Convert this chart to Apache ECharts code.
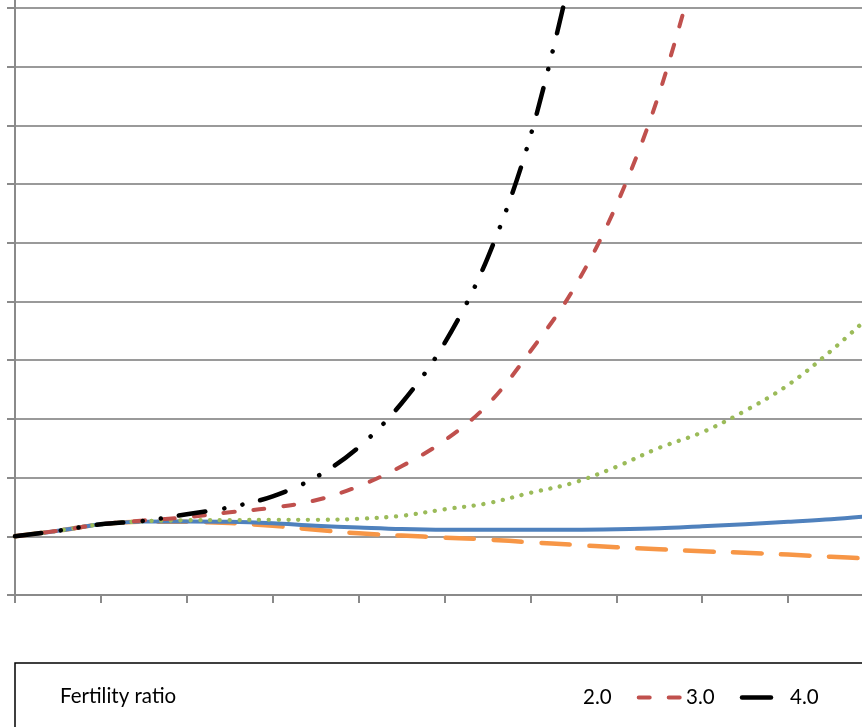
<!DOCTYPE html>
<html>
<head>
<meta charset="utf-8">
<script src="https://cdn.jsdelivr.net/npm/echarts@6/dist/echarts.min.js"></script>
<style>
  html, body { margin: 0; padding: 0; background: #ffffff; }
  #chart { width: 862px; height: 727px; }
</style>
</head>
<body>
<div id="chart"></div>
<script>
// Years elapsed (x) and relative population (y) for each fertility ratio
const years = [0, 5, 10, 15, 20, 25, 30, 35, 40, 45, 50, 55, 60, 65, 70, 75, 80, 85, 90, 95, 100];

const fert10 = [1.000, 1.094, 1.204, 1.250, 1.247, 1.225, 1.179, 1.111, 1.051, 1.012, 0.978, 0.945, 0.898, 0.855, 0.813, 0.779, 0.744, 0.719, 0.688, 0.651, 0.617];
const fert15 = [1.000, 1.094, 1.204, 1.250, 1.252, 1.247, 1.221, 1.179, 1.150, 1.123, 1.111, 1.111, 1.111, 1.111, 1.119, 1.136, 1.170, 1.204, 1.247, 1.290, 1.349];
const fert20 = [1.000, 1.094, 1.204, 1.256, 1.273, 1.276, 1.281, 1.281, 1.298, 1.349, 1.460, 1.562, 1.741, 1.911, 2.184, 2.508, 2.772, 3.138, 3.578, 4.160, 4.816];
const fert30 = [1.000, 1.094, 1.204, 1.270, 1.324, 1.409, 1.486, 1.613, 1.852, 2.193, 2.630, 3.238, 4.152, 5.208, 6.639, 8.547, 11.10, null, null, null, null];
const fert40 = [1.000, 1.094, 1.204, 1.264, 1.375, 1.494, 1.681, 2.005, 2.516, 3.266, 4.288, 5.736, 7.814, 10.76, null, null, null, null, null, null, null];

const legendTitle = 'Fertility ratio';
const legendLabels = ['2.0', '3.0', '4.0'];

function pairs(values) {
  const out = [];
  values.forEach(function (v, i) { if (v !== null) out.push([years[i], v]); });
  return out;
}

const FONT = 'Lato, "Open Sans", sans-serif';

function lineSeries(name, values, color, width, dash) {
  return {
    name: name,
    type: 'line',
    data: pairs(values),
    smooth: 0.35,
    showSymbol: false,
    symbol: 'none',
    lineStyle: {
      color: color,
      width: width,
      type: dash || 'solid',
      cap: 'round',
      join: 'round'
    },
    emphasis: { disabled: true }
  };
}

const chart = echarts.init(document.getElementById('chart'), null, { renderer: 'canvas' });

chart.setOption({
  animation: false,
  backgroundColor: '#ffffff',
  grid: {
    left: 15,
    right: -12,
    top: -50.7,
    bottom: 132,
    containLabel: false,
    outerBoundsMode: 'none'
  },
  xAxis: {
    type: 'value',
    min: 0,
    max: 100,
    interval: 10,
    axisLine: { show: true, lineStyle: { color: '#8a8a8a', width: 2 } },
    axisTick: { show: true, length: 8, inside: false, lineStyle: { color: '#8a8a8a', width: 2 } },
    axisLabel: { show: false },
    splitLine: { show: false }
  },
  yAxis: {
    type: 'value',
    min: 0,
    max: 11,
    interval: 1,
    axisLine: { show: true, lineStyle: { color: '#8a8a8a', width: 2 } },
    axisTick: { show: true, length: 8, inside: false, lineStyle: { color: '#8a8a8a', width: 2 } },
    axisLabel: { show: false },
    splitLine: { show: true, lineStyle: { color: '#9a9a9a', width: 2 } }
  },
  series: [
    lineSeries('1.0', fert10, '#F79646', 4.5, [28.5, 19.5]),
    lineSeries('1.5', fert15, '#4F81BD', 4),
    lineSeries('2.0', fert20, '#9BBB59', 4.3, [0.1, 9.7]),
    lineSeries('3.0', fert30, '#C0504D', 4, [11, 19]),
    lineSeries('4.0', fert40, '#000000', 4.5, [26.5, 19.5, 0.1, 18, 0.1, 18.5])
  ],
  graphic: [
    {
      type: 'rect',
      silent: true,
      shape: { x: 15, y: 663, width: 900, height: 120 },
      style: { fill: '#ffffff', stroke: '#000000', lineWidth: 1.5 }
    },
    {
      type: 'text', silent: true, x: 60, y: 696,
      style: { text: legendTitle, font: '20.5px ' + FONT, fill: '#000000', verticalAlign: 'middle', align: 'left' }
    },
    {
      type: 'text', silent: true, x: 583, y: 697,
      style: { text: legendLabels[0], font: '20.5px ' + FONT, fill: '#000000', verticalAlign: 'middle', align: 'left' }
    },
    {
      type: 'line', silent: true,
      shape: { x1: 638.7, y1: 697.5, x2: 679.7, y2: 697.5 },
      style: { stroke: '#C0504D', lineWidth: 4, lineDash: [11, 19], lineCap: 'round' }
    },
    {
      type: 'text', silent: true, x: 686, y: 697,
      style: { text: legendLabels[1], font: '20.5px ' + FONT, fill: '#000000', verticalAlign: 'middle', align: 'left' }
    },
    {
      type: 'line', silent: true,
      shape: { x1: 742, y1: 697.5, x2: 771, y2: 697.5 },
      style: { stroke: '#000000', lineWidth: 4.5, lineCap: 'round' }
    },
    {
      type: 'text', silent: true, x: 790, y: 697,
      style: { text: legendLabels[2], font: '20.5px ' + FONT, fill: '#000000', verticalAlign: 'middle', align: 'left' }
    }
  ]
});
</script>
</body>
</html>
